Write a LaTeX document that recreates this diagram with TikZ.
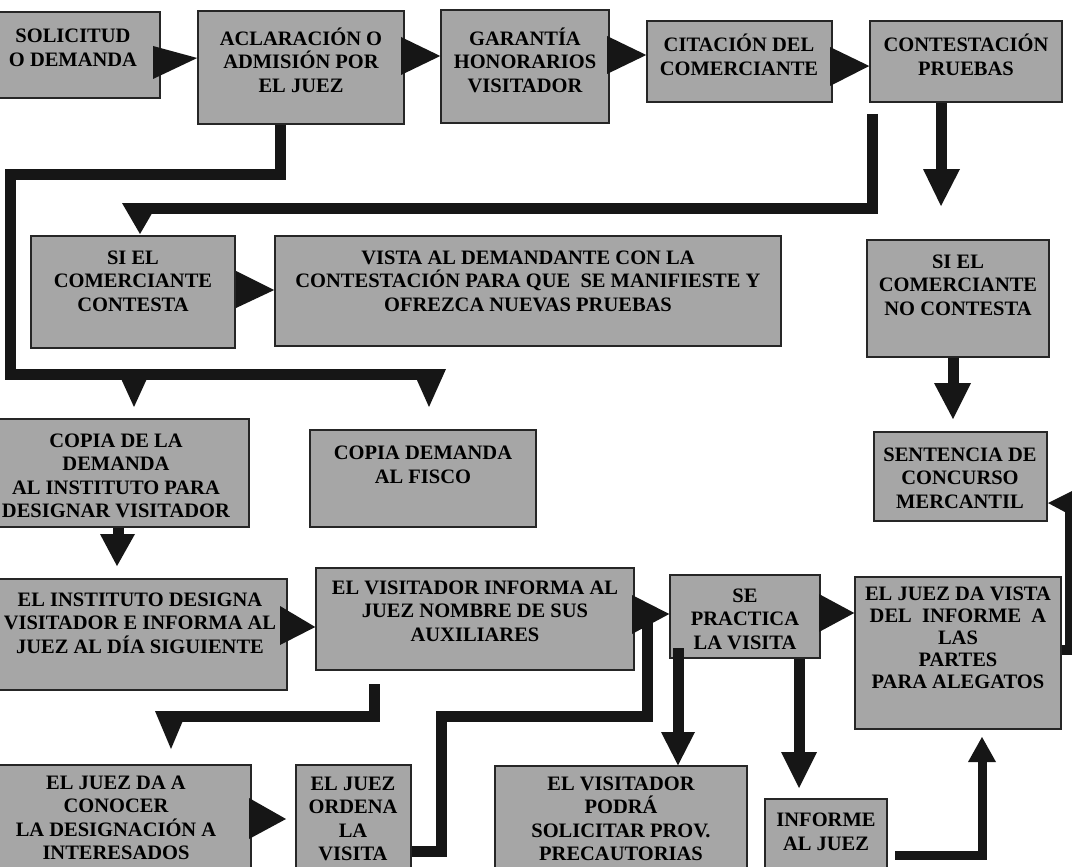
\documentclass[tikz,border=0pt]{standalone}
\usepackage{fontspec}
\setmainfont{Liberation Serif}
\usetikzlibrary{calc,fit}
\definecolor{boxgray}{RGB}{166,166,166}
\definecolor{inkc}{RGB}{22,22,22}
\begin{document}
\begin{tikzpicture}[x=1pt,y=-1pt,
  box/.style={draw=black!85, line width=1.5pt, fill=boxgray, inner sep=0pt},
  txt/.style={font=\bfseries\fontsize{20.5}{23.5}\selectfont, align=center, inner sep=0pt, text=black},
  ink/.style={fill=inkc},
  conn/.style={draw=inkc, line width=11pt, line join=miter}]
\clip (0,0) rectangle (1072,867);
\fill[white] (0,0) rectangle (1072,867);

% ---------- boxes ----------
\node[box, fit={(-14,12) (160,98)}] (b1) {};
\node[box, fit={(198,11) (404,124)}] (b2) {};
\node[box, fit={(441,10) (609,123)}] (b3) {};
\node[box, fit={(647,21) (832,102)}] (b4) {};
\node[box, fit={(870,21) (1062,102)}] (b5) {};
\node[box, fit={(31,236) (235,348)}] (b6) {};
\node[box, fit={(275,236) (781,346)}] (b7) {};
\node[box, fit={(867,240) (1049,357)}] (b8) {};
\node[box, fit={(-25,419) (249,527)}] (b9) {};
\node[box, fit={(310,430) (536,527)}] (b10) {};
\node[box, fit={(874,432) (1047,521)}] (b11) {};
\node[box, fit={(-21,579) (287,690)}] (b12) {};
\node[box, fit={(316,568) (634,670)}] (b13) {};
\node[box, fit={(670,575) (820,658)}] (b14) {};
\node[box, fit={(855,577) (1061,729)}] (b15) {};
\node[box, fit={(-19,765) (251,895)}] (b16) {};
\node[box, fit={(296,765) (411,895)}] (b17) {};
\node[box, fit={(495,766) (747,895)}] (b18) {};
\node[box, fit={(765,799) (887,895)}] (b19) {};

% ---------- connectors ----------
% horizontal triangles
\fill[ink] (153,46) -- (b2.west |- 0,58) -- (153,79) -- cycle;
\fill[ink] (401,37) -- (b3.west |- 0,56) -- (401,75) -- cycle;
\fill[ink] (607,36) -- (b4.west |- 0,55) -- (607,74) -- cycle;
\fill[ink] (830,47) -- (b5.west |- 0,66) -- (830,86) -- cycle;
\fill[ink] (236,271) -- (b7.west |- 0,290) -- (236,308) -- cycle;
\fill[ink] (280,606) -- (b13.west |- 0,627) -- (280,645) -- cycle;
\fill[ink] (249,798) -- (286,819) -- (249,839) -- cycle;
\fill[ink] (632,595) -- (b14.west |- 0,614) -- (632,634) -- cycle;
\fill[ink] (819,594) -- (b15.west |- 0,613) -- (819,632) -- cycle;

% CONTESTACION down
\draw[conn] (b5.south -| 941,0) -- (941,171);
\fill[ink] (923,169) -- (960,169) -- (941,206) -- cycle;
% ACLARACION bent to two copies
\draw[conn] (b2.south -| 280,0) -- (280,174) -- (10,174) -- (10,374) -- (432,374);
\fill[ink] (118,372) -- (150,372) -- (134,407) -- cycle;
\fill[ink] (412,369) -- (446,369) -- (429,407) -- cycle;
% CONTESTACION bent to SI EL COMERCIANTE CONTESTA
\draw[conn] (872,114) -- (872,208) -- (135,208);
\fill[ink] (122,203) -- (158,203) -- (140,234) -- cycle;
% NO CONTESTA down
\draw[conn] (b8.south -| 953,0) -- (953,385);
\fill[ink] (934,383) -- (971,383) -- (953,419) -- cycle;
% COPIA down
\draw[conn] (b9.south -| 118,0) -- (118,537);
\fill[ink] (100,534) -- (135,534) -- (117,566) -- cycle;
% VISITADOR INFORMA bent down-left
\draw[conn] (374,684) -- (374,716) -- (168,716);
\fill[ink] (155,711) -- (187,711) -- (171,749) -- cycle;
% JUEZ ORDENA bent to SE PRACTICA arrow
\draw[conn] (b17.east |- 0,851) -- (441,851) -- (441,716) -- (647,716) -- (647,620);
% SE PRACTICA down (left)
\draw[conn] (678,648) -- (678,736);
\fill[ink] (661,732) -- (695,732) -- (b18.north -| 678,0) -- cycle;
% SE PRACTICA down (right)
\draw[conn] (b14.south -| 799,0) -- (799,754);
\fill[ink] (781,752) -- (817,752) -- (799,788) -- cycle;
% INFORME to JUEZ DA VISTA
\draw[conn, line width=9pt] (895,855) -- (982,855) -- (982,758);
\fill[ink] (968,762) -- (996,762) -- (982,737) -- cycle;
% JUEZ DA VISTA to SENTENCIA
\draw[conn, line width=10pt] (b15.east |- 0,650) -- (1070,650) -- (1070,504);
\fill[ink] (1078,488) -- (1078,519) -- (1048,503) -- cycle;

% ---------- texts ----------
\node[txt] (t1) at (73,48) {SOLICITUD\\O DEMANDA};
\node[txt] (t2) at (301,60) {ACLARACIÓN O\\ADMISIÓN POR\\EL JUEZ};
\node[txt] (t3) at (525,60) {GARANTÍA\\HONORARIOS\\VISITADOR};
\node[txt] (t4) at (739,55) {CITACIÓN DEL\\COMERCIANTE};
\node[txt] (t5) at (966,55) {CONTESTACIÓN\\PRUEBAS};
\node[txt] (t6) at (133,281) {SI EL\\COMERCIANTE\\CONTESTA};
\node[txt] (t7) at (528,281) {VISTA AL DEMANDANTE CON LA\\CONTESTACIÓN PARA QUE\ \ SE MANIFIESTE Y\\OFREZCA NUEVAS PRUEBAS};
\node[txt] (t8) at (958,285) {SI EL\\COMERCIANTE\\NO CONTESTA};
\node[txt] (t9) at (116,476) {COPIA DE LA\\DEMANDA\\AL INSTITUTO PARA\\DESIGNAR VISITADOR};
\node[txt] (t10) at (423,465) {COPIA DEMANDA\\AL FISCO};
\node[txt] (t11) at (960,478) {SENTENCIA DE\\CONCURSO\\MERCANTIL};
\node[txt] (t12) at (140,623) {EL INSTITUTO DESIGNA\\VISITADOR E INFORMA AL\\JUEZ AL DÍA SIGUIENTE};
\node[txt] (t13) at (475,611) {EL VISITADOR INFORMA AL\\JUEZ NOMBRE DE SUS\\AUXILIARES};
\node[txt] (t14) at (745,619) {SE\\PRACTICA\\LA VISITA};
\node[txt, font=\bfseries\fontsize{20.5}{22}\selectfont] (t15) at (958,638) {EL JUEZ DA VISTA\\DEL\ \ INFORME\ \ A\\LAS\\PARTES\\PARA ALEGATOS};
\node[txt] (t16) at (116,818) {EL JUEZ DA A\\CONOCER\\LA DESIGNACIÓN A\\INTERESADOS};
\node[txt] (t17) at (353,819) {EL JUEZ\\ORDENA\\LA\\VISITA};
\node[txt] (t18) at (621,819) {EL VISITADOR\\PODRÁ\\SOLICITAR PROV.\\PRECAUTORIAS};
\node[txt] (t19) at (826,832) {INFORME\\AL JUEZ};
\end{tikzpicture}
\end{document}
